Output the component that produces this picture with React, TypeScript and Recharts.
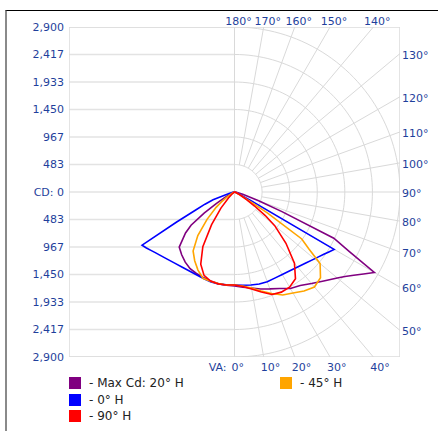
import { ComposedChart, Line, XAxis, YAxis } from "recharts";

// vertical angles (0° = straight down) at which the candela values were read
const VERTICAL_ANGLES = [0, 5, 10, 15, 20, 25, 30, 35, 40, 45, 50, 52.5, 55, 57.5, 60, 62.5, 65, 67.5, 70, 75, 80, 85, 90];

// right half of each curve = the named H plane, left half = the opposite plane
const CD_20H = [1653, 1680, 1714, 1765, 1812, 1872, 1959, 2007, 2100, 2210, 2350, 2440, 2550, 2680, 2829, 2270, 1920, 900, 450, 150, 50, 20, 0];
const CD_200H = [1653, 1645, 1635, 1620, 1600, 1580, 1555, 1505, 1440, 1370, 1120, 960, 650, 380, 200, 120, 80, 50, 30, 10, 0, 0, 0];
const CD_0H = [1635, 1645, 1660, 1675, 1679, 1670, 1674, 1691, 1721, 1767, 1829, 1866, 1910, 1960, 2016, 300, 100, 50, 30, 10, 0, 0, 0];
const CD_180H = [1635, 1638, 1640, 1632, 1615, 1600, 1598, 1608, 1631, 1668, 1719, 1750, 1788, 1830, 1870, 1150, 750, 560, 400, 100, 30, 10, 0];
const CD_45H = [1635, 1658, 1714, 1802, 1899, 1998, 2049, 2124, 2179, 2131, 1958, 1640, 1439, 688, 200, 90, 50, 25, 10, 0, 0, 0, 0];
const CD_225H = [1635, 1640, 1635, 1625, 1613, 1515, 1395, 1265, 1000, 680, 420, 300, 180, 110, 60, 40, 20, 10, 5, 0, 0, 0, 0];
const CD_90H = [1635, 1667, 1731, 1820, 1918, 1942, 1930, 1863, 1634, 1275, 920, 680, 429, 250, 150, 90, 50, 25, 15, 5, 0, 0, 0];
const CD_270H = [1635, 1640, 1640, 1620, 1560, 1400, 1110, 700, 370, 150, 50, 30, 15, 5, 0, 0, 0, 0, 0, 0, 0, 0, 0];

const CD_MAX = 2900;
const CD_TICKS = [483, 967, 1450, 1933, 2417, 2900];
const BOTTOM_ANGLES = [0, 10, 20, 30, 40];
const RIGHT_ANGLES = [50, 60, 70, 80, 90, 100, 110, 120, 130];
const TOP_ANGLES = [140, 150, 160, 170, 180];
const RADIAL_ANGLES = [10, 20, 30, 40, 50, 60, 70, 80, 90, 100, 110, 120, 130, 140, 150, 160, 170];

const SERIES = [
  { name: "- Max Cd: 20° H", color: "#800080", right: CD_20H, left: CD_200H },
  { name: "- 0° H", color: "#0000ff", right: CD_0H, left: CD_180H },
  { name: "- 90° H", color: "#ff0000", right: CD_90H, left: CD_270H },
  { name: "- 45° H", color: "#ffa500", right: CD_45H, left: CD_225H },
];
const DRAW_ORDER = [0, 1, 3, 2];

const NAVY = "#1f3f9c";
const FONT = '"DejaVu Sans", Verdana, sans-serif';
const GRID = "#d9d9d9";
const DEG = Math.PI / 180;

type Pt = { x: number; y: number };

const polar = (cd: number, a: number, side: number): Pt => ({
  x: side * cd * Math.sin(a * DEG),
  y: -cd * Math.cos(a * DEG),
});

function outline(right: number[], left: number[]): Pt[] {
  const pts = VERTICAL_ANGLES.map((a, i) => polar(right[i], a, 1));
  for (let i = VERTICAL_ANGLES.length - 1; i >= 0; i--) pts.push(polar(left[i], VERTICAL_ANGLES[i], -1));
  return pts;
}

function ring(cd: number): Pt[] {
  const pts: Pt[] = [];
  for (let a = 0; a <= 180; a += 2) pts.push(polar(cd, a, 1));
  return pts;
}

function radial(a: number): Pt[] {
  const s = Math.abs(Math.sin(a * DEG));
  const c = Math.abs(Math.cos(a * DEG));
  return [polar(CD_TICKS[0], a, 1), polar(CD_MAX / Math.max(s, c), a, 1)];
}

const gridLines: { pts: Pt[]; color: string; width: number }[] = [
  ...[...CD_TICKS, 0, ...CD_TICKS.map((v) => -v)].map((v) => ({
    pts: [{ x: -CD_MAX, y: v }, { x: 0, y: v }],
    color: "#e3e3e3",
    width: 1.5,
  })),
  {
    pts: [{ x: -CD_MAX, y: CD_MAX }, { x: CD_MAX, y: CD_MAX }, { x: CD_MAX, y: -CD_MAX }, { x: -CD_MAX, y: -CD_MAX }, { x: -CD_MAX, y: CD_MAX }],
    color: "#dcdcdc",
    width: 1.5,
  },
  { pts: [{ x: 0, y: CD_MAX }, { x: 0, y: -CD_MAX }], color: GRID, width: 1 },
  ...CD_TICKS.map((v) => ({ pts: ring(v), color: GRID, width: 1 })),
  ...RADIAL_ANGLES.map((a) => ({ pts: radial(a), color: GRID, width: 1 })),
];

const roundDeg = (v: number) => Math.round(Math.atan(v / CD_MAX) / DEG);

function BottomTick(props: any) {
  const { x, y, payload } = props;
  const a = roundDeg(payload.value);
  const common = { fill: NAVY, fontSize: 11, fontFamily: FONT, y: y + 14 };
  if (a === 0) {
    return (
      <g>
        <text {...common} x={x - 8} textAnchor="end">VA:</text>
        <text {...common} x={x - 3} textAnchor="start">0°</text>
      </g>
    );
  }
  return <text {...common} x={x - 3} textAnchor="start">{a}°</text>;
}

function TopTick(props: any) {
  const { x, y, payload } = props;
  const a = 180 - roundDeg(payload.value);
  return (
    <text x={x + 4} y={y - 2} textAnchor="middle" fill={NAVY} fontSize={11} fontFamily={FONT}>
      {a}°
    </text>
  );
}

function RightTick(props: any) {
  const { x, y, payload } = props;
  const a = 90 + roundDeg(payload.value);
  return (
    <text x={x + 2} y={y + 5} textAnchor="start" fill={NAVY} fontSize={11} fontFamily={FONT}>
      {a}°
    </text>
  );
}

const leftTicks = [...CD_TICKS.slice().reverse(), 0, ...CD_TICKS.map((v) => -v)];
const formatCd = (v: number) => (v === 0 ? "CD: 0" : Math.abs(v).toLocaleString("en-US"));

export default function App() {
  return (
    <div style={{ position: "absolute", left: 0, top: 0, width: 438, height: 434, background: "#fff" }}>
      <div
        style={{
          position: "absolute",
          left: 5,
          top: 10,
          width: 433,
          height: 421,
          borderTop: "1px solid #000",
          borderLeft: "2px solid #8a8a8a",
          boxSizing: "border-box",
        }}
      />
      <div style={{ position: "absolute", left: 0, top: 0 }}>
        <ComposedChart
          width={438}
          height={434}
          margin={{ top: 26, right: 37, bottom: 76, left: 0 }}
          style={{ fontFamily: FONT }}
        >
          <XAxis
            dataKey="x"
            type="number"
            domain={[-CD_MAX, CD_MAX]}
            allowDataOverflow
            ticks={BOTTOM_ANGLES.map((a) => CD_MAX * Math.tan(a * DEG))}
            interval={0}
            height={1}
            tickSize={0}
            tickMargin={0}
            axisLine={false}
            tickLine={false}
            tick={BottomTick}
          />
          <XAxis
            xAxisId="top"
            orientation="top"
            dataKey="x"
            type="number"
            domain={[-CD_MAX, CD_MAX]}
            allowDataOverflow
            ticks={TOP_ANGLES.map((a) => CD_MAX * Math.tan((180 - a) * DEG))}
            interval={0}
            height={1}
            tickSize={0}
            tickMargin={0}
            axisLine={false}
            tickLine={false}
            tick={TopTick}
          />
          <YAxis
            type="number"
            domain={[-CD_MAX, CD_MAX]}
            allowDataOverflow
            ticks={leftTicks}
            interval={0}
            width={69}
            tickSize={5}
            tickMargin={0}
            axisLine={false}
            tickLine={false}
            tickFormatter={formatCd}
            tick={{ fill: NAVY, fontSize: 11, fontFamily: FONT }}
          />
          <YAxis
            yAxisId="right"
            orientation="right"
            type="number"
            domain={[-CD_MAX, CD_MAX]}
            allowDataOverflow
            ticks={RIGHT_ANGLES.map((a) => CD_MAX * Math.tan((a - 90) * DEG))}
            interval={0}
            width={1}
            tickSize={0}
            tickMargin={0}
            axisLine={false}
            tickLine={false}
            tick={RightTick}
          />
          {gridLines.map((g, i) => (
            <Line
              key={`grid-${i}`}
              data={g.pts}
              dataKey="y"
              stroke={g.color}
              strokeWidth={g.width}
              dot={false}
              activeDot={false}
              legendType="none"
              isAnimationActive={false}
            />
          ))}
          {DRAW_ORDER.map((i) => (
            <Line
              key={SERIES[i].name}
              name={SERIES[i].name}
              data={outline(SERIES[i].right, SERIES[i].left)}
              dataKey="y"
              stroke={SERIES[i].color}
              strokeWidth={1.6}
              dot={false}
              activeDot={false}
              isAnimationActive={false}
            />
          ))}
        </ComposedChart>
      </div>
      {SERIES.map((s, i) => (
        <div
          key={s.name}
          style={{
            position: "absolute",
            left: 69 + Math.floor(i / 3) * 211,
            top: 377 + (i % 3) * 16.5,
            height: 12,
            display: "flex",
            alignItems: "center",
            fontFamily: FONT,
            fontSize: 12,
            color: "#222",
            whiteSpace: "nowrap",
          }}
        >
          <span style={{ display: "inline-block", width: 12, height: 12, background: s.color, marginRight: 8 }} />
          {s.name}
        </div>
      ))}
    </div>
  );
}
